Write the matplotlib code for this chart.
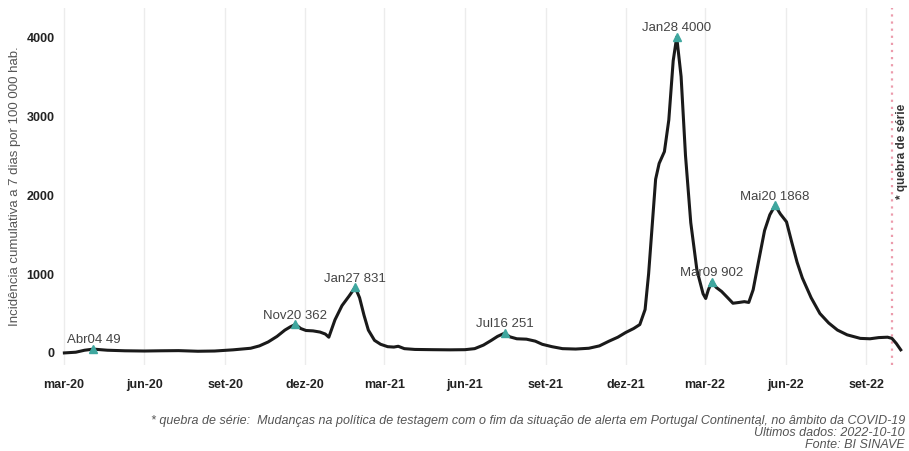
import matplotlib
matplotlib.use("Agg")
import matplotlib.pyplot as plt
import pandas as pd

plt.rcParams['font.family'] = ['Liberation Sans', 'DejaVu Sans']

dates = [
    "2020-03-02", "2020-03-15", "2020-03-25", "2020-04-04", "2020-04-20", "2020-05-10",
    "2020-06-01", "2020-06-20", "2020-07-10", "2020-08-01", "2020-08-20", "2020-09-10",
    "2020-09-30", "2020-10-10", "2020-10-20", "2020-10-30", "2020-11-08", "2020-11-14",
    "2020-11-20", "2020-11-26", "2020-12-02", "2020-12-10", "2020-12-18", "2020-12-24",
    "2020-12-28", "2021-01-04", "2021-01-12", "2021-01-20", "2021-01-27", "2021-02-01",
    "2021-02-06", "2021-02-11", "2021-02-18", "2021-02-25", "2021-03-05", "2021-03-12",
    "2021-03-17", "2021-03-24", "2021-04-05", "2021-04-25", "2021-05-15", "2021-06-01",
    "2021-06-12", "2021-06-22", "2021-07-01", "2021-07-08", "2021-07-16", "2021-07-22",
    "2021-07-30", "2021-08-10", "2021-08-20", "2021-08-28", "2021-09-08", "2021-09-20",
    "2021-10-05", "2021-10-20", "2021-11-01", "2021-11-12", "2021-11-22", "2021-12-01",
    "2021-12-10", "2021-12-17", "2021-12-23", "2021-12-27", "2021-12-31", "2022-01-04",
    "2022-01-08", "2022-01-14", "2022-01-19", "2022-01-24", "2022-01-28", "2022-02-02",
    "2022-02-07", "2022-02-13", "2022-02-20", "2022-02-27", "2022-03-02", "2022-03-05",
    "2022-03-09", "2022-03-14", "2022-03-20", "2022-03-27", "2022-04-02", "2022-04-09",
    "2022-04-15", "2022-04-20", "2022-04-25", "2022-05-01", "2022-05-08", "2022-05-14",
    "2022-05-20", "2022-05-26", "2022-06-02", "2022-06-08", "2022-06-14", "2022-06-20",
    "2022-06-30", "2022-07-10", "2022-07-20", "2022-07-30", "2022-08-10", "2022-08-25",
    "2022-09-05", "2022-09-15", "2022-09-25", "2022-09-30", "2022-10-05", "2022-10-10",
]
incidence = [
    1, 10, 35, 49, 35, 28,
    25, 28, 30, 22, 25, 40,
    60, 90, 140, 210, 290, 330,
    362, 310, 285, 280, 265, 240,
    200, 420, 600, 720, 831, 700,
    480, 290, 160, 110, 80, 75,
    85, 55, 45, 42, 40, 42,
    55, 100, 160, 210, 251, 205,
    180, 175, 150, 110, 80, 55,
    50, 60, 90, 150, 200, 260,
    310, 360, 550, 1000, 1600, 2200,
    2400, 2550, 2950, 3700, 4000, 3500,
    2500, 1650, 1050, 750, 690, 800,
    902, 830, 780, 700, 630, 640,
    650, 640, 800, 1150, 1550, 1750,
    1868, 1760, 1660, 1400, 1150, 950,
    700, 500, 380, 290, 230, 185,
    180, 195, 200, 185, 120, 40,
]

peak_dates = ["2020-04-04", "2020-11-20", "2021-01-27", "2021-07-16", "2022-01-28", "2022-03-09", "2022-05-20"]
peak_values = [49, 362, 831, 251, 4000, 902, 1868]
peak_labels = ["Abr04 49", "Nov20 362", "Jan27 831", "Jul16 251", "Jan28 4000", "Mar09 902", "Mai20 1868"]

break_date = "2022-09-30"
tick_dates = ["2020-03-01", "2020-06-01", "2020-09-01", "2020-12-01", "2021-03-01", "2021-06-01",
              "2021-09-01", "2021-12-01", "2022-03-01", "2022-06-01", "2022-09-01"]
tick_labels = ["mar-20", "jun-20", "set-20", "dez-20", "mar-21", "jun-21",
               "set-21", "dez-21", "mar-22", "jun-22", "set-22"]
y_ticks = [0, 1000, 2000, 3000, 4000]

x = pd.to_datetime(dates)
px = pd.to_datetime(peak_dates)
tx = pd.to_datetime(tick_dates)

fig = plt.figure(figsize=(9.09, 4.51), dpi=100)
ax = fig.add_axes([60/909, 1-365/451, (906-60)/909, (365-8)/451])

ax.plot(x, incidence, color='#1a1a1a', lw=2.2, zorder=3)
ax.plot(px, peak_values, linestyle='none', marker='^', color='#3fa79f', ms=6, zorder=4)
for d, v, t in zip(px, peak_values, peak_labels):
    ax.annotate(t, (d, v), xytext=(0, 2), textcoords='offset points',
                ha='center', va='bottom', fontsize=9.5, color='#444444', zorder=5)

ax.axvline(pd.to_datetime(break_date), color='#e67a90', lw=1.6, ls=(0, (1, 2.2)), alpha=0.75, zorder=2)
ax.text(pd.to_datetime("2022-10-12"), 2550, "* quebra de série", rotation=90, ha='center', va='center',
        fontsize=8.5, fontweight='bold', color='#333333')

ax.set_xlim(pd.to_datetime("2020-02-26"), pd.to_datetime("2022-10-16"))
ax.set_ylim(-152, 4368)
ax.set_xticks(tx)
ax.set_xticklabels(tick_labels)
ax.set_yticks(y_ticks)
ax.set_yticklabels([str(v) for v in y_ticks])
ax.tick_params(axis='both', length=0, labelsize=9, labelcolor='#222222')
for lab in ax.get_xticklabels() + ax.get_yticklabels():
    lab.set_fontweight('bold')
ax.tick_params(axis='x', pad=10)
ax.tick_params(axis='y', pad=4)
ax.grid(axis='x', color='#ececec', lw=1.0)
ax.grid(axis='y', visible=False)
for s in ax.spines.values():
    s.set_visible(False)
ax.set_ylabel("Incidência cumulativa a 7 dias por 100 000 hab.", fontsize=9.5, color='#555555', labelpad=4)

cap_kw = dict(ha='right', va='center', fontsize=9, style='italic', color='#555555')
fig.text(905/909, 1-421/451, "* quebra de série:  Mudanças na política de testagem com o fim da situação de alerta em Portugal Continental, no âmbito da COVID-19", **cap_kw)
fig.text(905/909, 1-433/451, "Últimos dados: 2022-10-10", **cap_kw)
fig.text(905/909, 1-445/451, "Fonte: BI SINAVE", **cap_kw)

fig.savefig("out.png", dpi=100, facecolor='white')
